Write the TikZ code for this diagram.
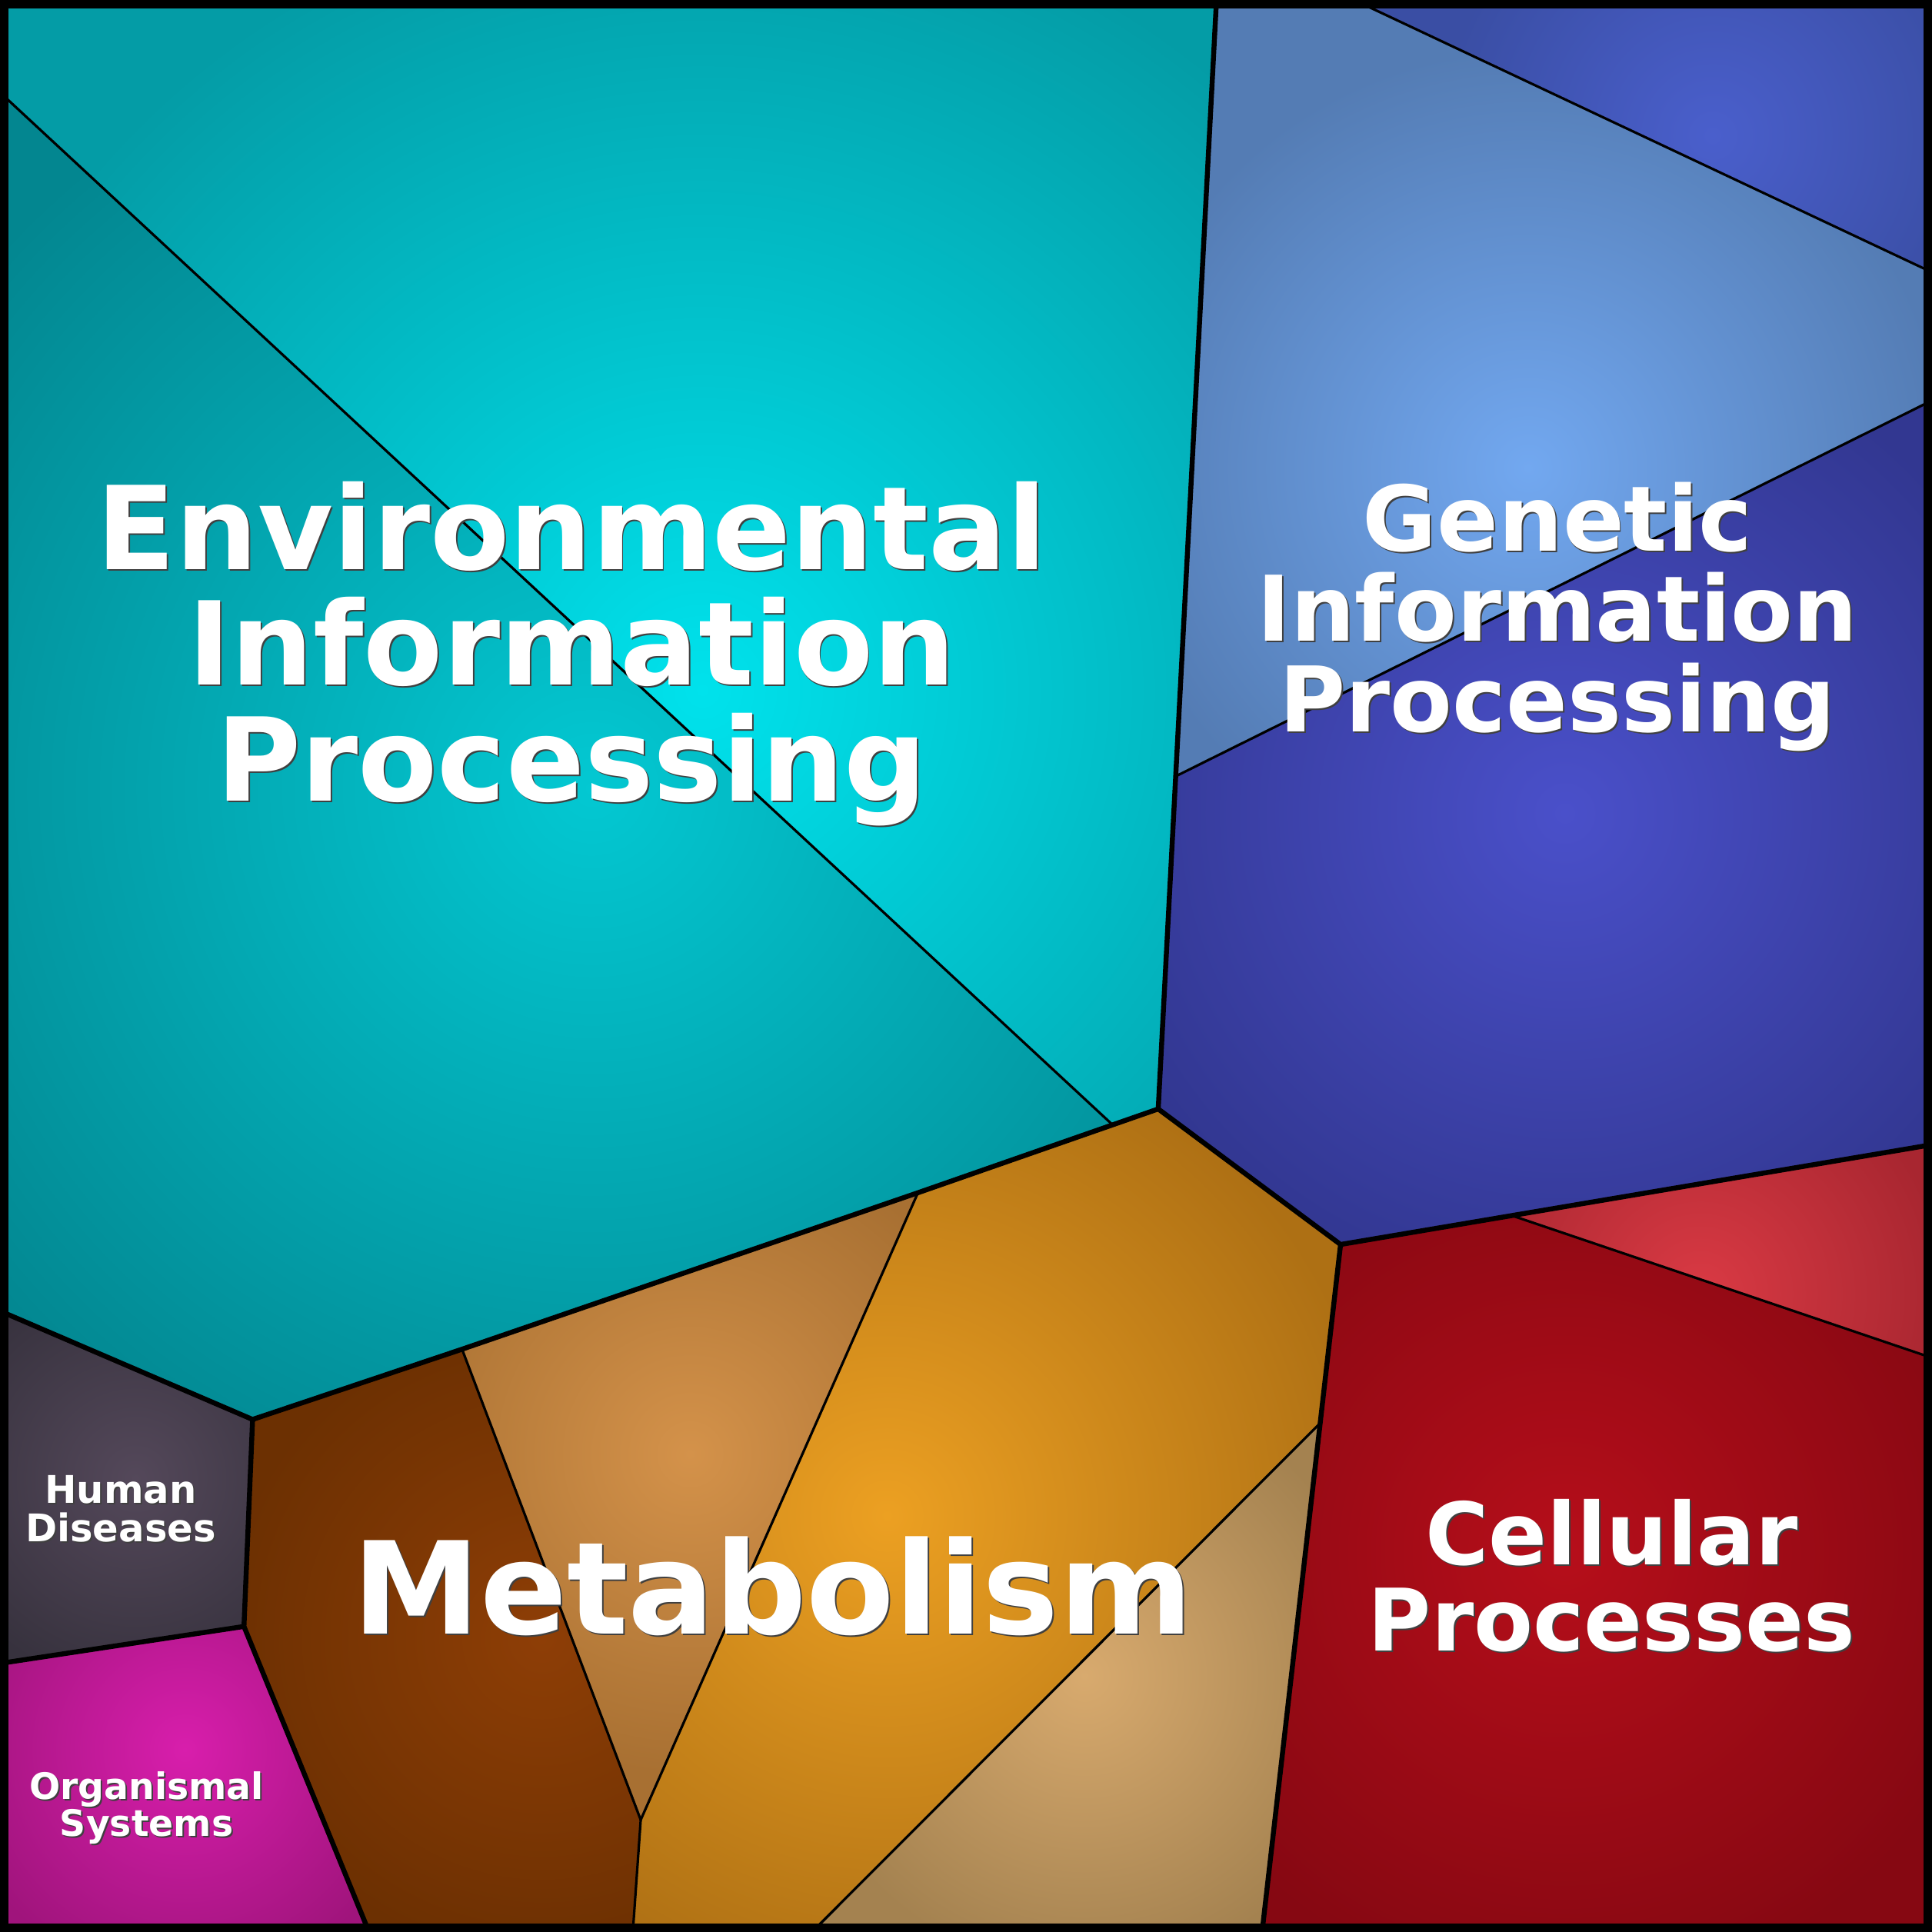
\documentclass[tikz,border=0pt]{standalone}
\usepackage{fontspec}
\setmainfont{DejaVu Sans}
\definecolor{envhi}{RGB}{0,226,236}
\definecolor{envlo}{RGB}{4,156,166}
\definecolor{envbhi}{RGB}{3,200,210}
\definecolor{envblo}{RGB}{3,134,144}
\definecolor{genahi}{RGB}{74,95,204}
\definecolor{genalo}{RGB}{58,78,164}
\definecolor{genbhi}{RGB}{114,168,240}
\definecolor{genblo}{RGB}{84,124,180}
\definecolor{genchi}{RGB}{74,80,202}
\definecolor{genclo}{RGB}{50,55,145}
\definecolor{celahi}{RGB}{218,58,68}
\definecolor{celalo}{RGB}{168,38,48}
\definecolor{celbhi}{RGB}{182,14,26}
\definecolor{celblo}{RGB}{134,8,18}
\definecolor{metahi}{RGB}{142,62,6}
\definecolor{metalo}{RGB}{108,48,2}
\definecolor{metbhi}{RGB}{212,146,74}
\definecolor{metblo}{RGB}{168,112,50}
\definecolor{metchi}{RGB}{236,160,34}
\definecolor{metclo}{RGB}{174,112,20}
\definecolor{metdhi}{RGB}{216,170,110}
\definecolor{metdlo}{RGB}{164,130,80}
\definecolor{humhi}{RGB}{84,72,90}
\definecolor{humlo}{RGB}{55,50,62}
\definecolor{orghi}{RGB}{216,30,172}
\definecolor{orglo}{RGB}{160,20,124}
\tikzset{x=0.01cm, y=-0.01cm,
major/.style={
line width=1.14pt,
line join=round},
minor/.style={
line width=0.57pt},
frame/.style={
line width=3.98pt},
lbl/.style={
text=white,
align=center,
inner sep=0pt,
anchor=base},
shadow/.style={
text=black!75,
xshift=0.35pt,
yshift=-0.35pt}}
% path, centre, radius, inner colour, outer colour
\newcommand{\shadecell}[5]{%
\begin{scope}
\clip #1 -- cycle;
\fill[#5] #1 -- cycle;
\shade[inner color=#4, outer color=#5] #2 circle (#3);
\end{scope}}
% name, position (last baseline), size, text
\newcommand{\celllabel}[4]{%
\node[lbl, shadow, font=\bfseries\fontsize{#3}{#3}\selectfont] (#1-sh) at #2 {#4};
\node[lbl, font=\bfseries\fontsize{#3}{#3}\selectfont] (#1) at #2 {#4};}

\begin{document}
\begin{tikzpicture}
\useasboundingbox (0,0) rectangle (1568,1568);
% corners and cell vertices
\coordinate (nw) at (0,0);
\coordinate (ne) at (1568,0);
\coordinate (se) at (1568,1568);
\coordinate (sw) at (0,1568);
\coordinate (t1) at (987.3,0);
\coordinate (t2) at (1099,0);
\coordinate (r1) at (1568,221);
\coordinate (r2) at (1568,325);
\coordinate (r3) at (1568,929);
\coordinate (r4) at (1568,1102);
\coordinate (l1) at (0,75);
\coordinate (l2) at (0,1064);
\coordinate (l3) at (0,1350);
\coordinate (b1) at (299.5,1568);
\coordinate (b2) at (513.6,1568);
\coordinate (b3) at (659,1568);
\coordinate (b4) at (1024.3,1568);
\coordinate (a) at (940,900);
\coordinate (e1) at (903,912.9);
\coordinate (g1) at (954.2,630);
\coordinate (m1) at (745,968);
\coordinate (m2) at (375,1095);
\coordinate (m3) at (520,1477);
\coordinate (h1) at (205,1152);
\coordinate (h2) at (198,1320);
\coordinate (c0) at (1088,1010);
\coordinate (c1) at (1227,986.5);
\coordinate (c2) at (1071.4,1155);

% fills
\shadecell{(l1) -- (nw) -- (t1) -- (a) -- (e1)}{(570,560)}{6.5cm}{envhi}{envlo}
\shadecell{(l1) -- (e1) -- (m1) -- (m2) -- (h1) -- (l2)}{(480,640)}{6.5cm}{envbhi}{envblo}
\shadecell{(t2) -- (ne) -- (r1)}{(1390,110)}{2.2cm}{genahi}{genalo}
\shadecell{(t1) -- (t2) -- (r1) -- (r2) -- (g1)}{(1240,380)}{3.4cm}{genbhi}{genblo}
\shadecell{(g1) -- (r2) -- (r3) -- (c1) -- (c0) -- (a)}{(1270,660)}{4cm}{genchi}{genclo}
\shadecell{(c1) -- (r3) -- (r4)}{(1380,1050)}{2cm}{celahi}{celalo}
\shadecell{(c0) -- (c1) -- (r4) -- (se) -- (b4) -- (c2)}{(1270,1260)}{3.6cm}{celbhi}{celblo}
\shadecell{(h1) -- (m2) -- (m3) -- (b2) -- (b1) -- (h2)}{(440,1330)}{2.6cm}{metahi}{metalo}
\shadecell{(m2) -- (m1) -- (m3)}{(560,1180)}{2.6cm}{metbhi}{metblo}
\shadecell{(m1) -- (e1) -- (a) -- (c0) -- (c2) -- (b3) -- (b2) -- (m3)}{(720,1230)}{4cm}{metchi}{metclo}
\shadecell{(c2) -- (b4) -- (b3)}{(880,1360)}{2.4cm}{metdhi}{metdlo}
\shadecell{(l2) -- (h1) -- (h2) -- (l3)}{(110,1200)}{1.7cm}{humhi}{humlo}
\shadecell{(l3) -- (h2) -- (b1) -- (sw)}{(150,1420)}{1.9cm}{orghi}{orglo}

% sub-cell lines
\draw[minor] (l1) -- (e1);
\draw[minor] (t2) -- (r1);
\draw[minor] (r2) -- (g1);
\draw[minor] (c1) -- (r4);
\draw[minor] (m1) -- (m3) -- (m2);
\draw[minor] (m3) -- (b2);
\draw[minor] (c2) -- (b3);

% category borders
\draw[major] (t1) -- (a) -- (c0) -- (r3);
\draw[major] (a) -- (m1) -- (m2) -- (h1) -- (l2);
\draw[major] (c0) -- (b4);
\draw[major] (h1) -- (h2) -- (l3);
\draw[major] (h2) -- (b1);
\draw[frame] (nw) rectangle (se);

% labels
\celllabel{env}{(464,650)}{26.7}{Environmental\\Information\\Processing}
\celllabel{gen}{(1264,594)}{20.9}{Genetic\\Information\\Processing}
\celllabel{met}{(627,1326)}{29.6}{Metabolism}
\celllabel{cel}{(1308,1340)}{19.9}{Cellular\\Processes}
\celllabel{hum}{(98,1251)}{8.8}{Human\\Diseases}
\celllabel{org}{(119,1490)}{8.4}{Organismal\\Systems}
\end{tikzpicture}
\end{document}
